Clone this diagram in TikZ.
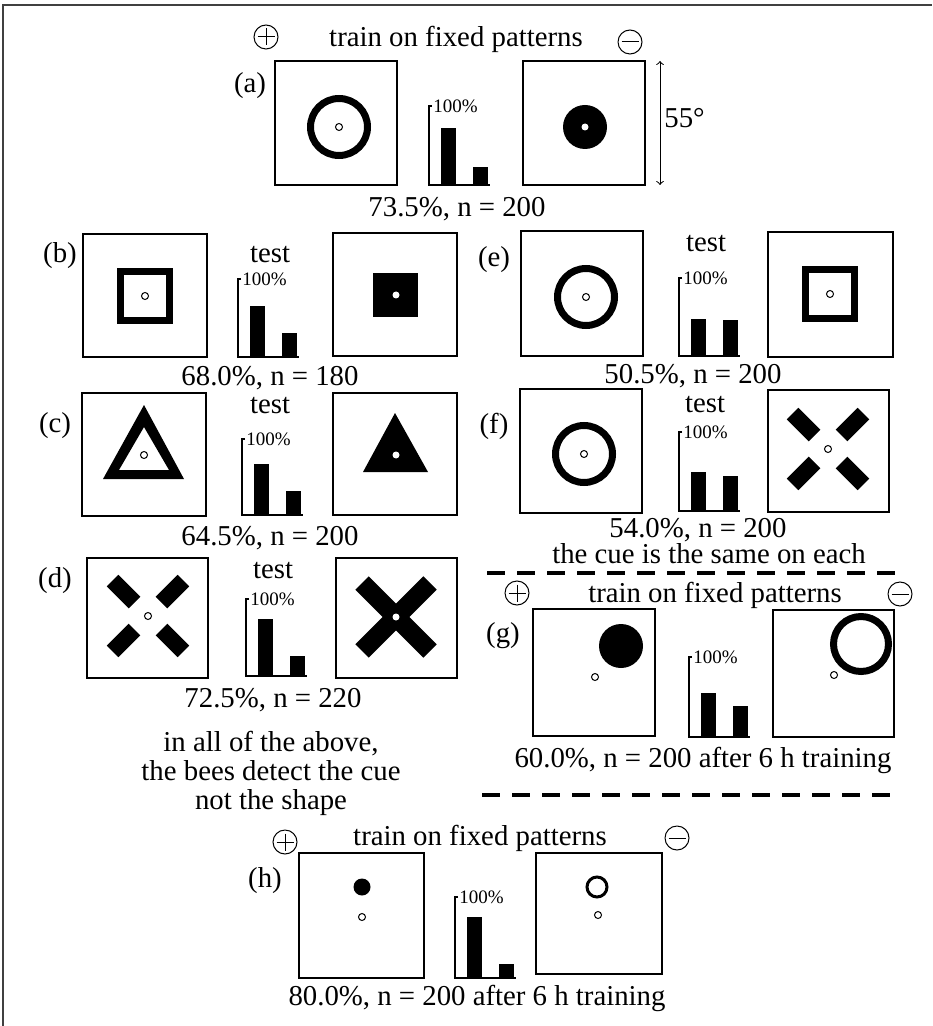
\documentclass[tikz,border=0pt]{standalone}
\usepackage{fontspec}
\setmainfont{Liberation Serif}
\tikzset{
    panel/.style={draw, line width=0.8pt},
    lbl/.style={font=\fontsize{14.4}{16}\selectfont, inner sep=0pt, anchor=base},
    pct/.style={font=\fontsize{9.5}{11}\selectfont, inner sep=0pt, anchor=west},
    cue/.style={draw, fill=white, line width=0.5pt},
    sign/.style={draw, circle, minimum size=12pt, inner sep=0pt, line width=0.5pt},
    dashline/.style={line width=2pt, dash pattern=on 9pt off 6pt}
}
\begin{document}
\begin{tikzpicture}[x=0.5pt, y=-0.5pt]
        \useasboundingbox (0,0) rectangle (932,1026);
        \draw[line width=1pt, black!75] (3,1026) -- (3,5) -- (932,5);
        % (a) training
        \node[sign] (pa) at (266,37) {};
        \draw[line width=0.5pt] ([xshift=2pt]pa.west) -- ([xshift=-2pt]pa.east);
        \draw[line width=0.5pt] ([yshift=-2pt]pa.north) -- ([yshift=2pt]pa.south);
        \node[sign] (ma) at (630,42) {};
        \draw[line width=0.5pt] ([xshift=2pt]ma.west) -- ([xshift=-2pt]ma.east);
        \node[lbl] (tita) at (456,47) {train on fixed patterns};
        \node[lbl] (laba) at (250,93) {(a)};
        \draw[panel] (275,61) rectangle (397,185);
        \draw[line width=3.5pt] (339,127) circle (14.25pt);
        \draw[cue] (339,127) circle (1.75pt);
        \draw[panel] (523,61) rectangle (645,185);
        \fill (585,127) circle (11pt);
        \fill[white] (585,127) circle (1.75pt);
        \coordinate (arrtop) at (660,61);
        \coordinate (arrbot) at (660,185);
        \draw[<->, line width=0.5pt] (arrtop) -- (arrbot);
        \node[lbl, anchor=base west] (deg) at (664,128) {55°};
        \node[lbl] (resa) at (457,217) {73.5\%, n = 200};
        % (b)
        \node[lbl] (labb) at (60,263) {(b)};
        \node[lbl] (testb) at (270,263) {test};
        \draw[panel] (83,234) rectangle (207,357);
        \draw[line width=3.5pt] (120.5,271.5) rectangle (169.5,320.5);
        \draw[cue] (145,296) circle (1.75pt);
        \draw[panel] (333,233) rectangle (457,356);
        \fill (373,273) rectangle (418,317);
        \fill[white] (396,295) circle (1.75pt);
        \node[lbl] (resb) at (270,385) {68.0\%, n = 180};
        % (c)
        \node[lbl] (labc) at (55,432) {(c)};
        \node[lbl] (testc) at (270,413) {test};
        \draw[panel] (82,393) rectangle (206,516);
        \fill[even odd rule] (144,405) -- (103,479) -- (184,479) -- cycle
            (144,427) -- (119,470) -- (169,470) -- cycle;
        \draw[cue] (144,455) circle (1.75pt);
        \draw[panel] (333,393) rectangle (457,515);
        \fill (395,413) -- (363,472) -- (428,472) -- cycle;
        \fill[white] (396,455) circle (1.75pt);
        \node[lbl] (resc) at (270,545) {64.5\%, n = 200};
        % (d)
        \node[lbl] (labd) at (55,587) {(d)};
        \node[lbl] (testd) at (273,578) {test};
        \draw[panel] (87,558) rectangle (208,678);
        \foreach \sx/\sy in {1/1,1/-1,-1/1,-1/-1}
            \draw[line width=8.25pt] ({148+13.5*\sx},{616+13.5*\sy}) -- ({148+35.4*\sx},{616+35.4*\sy});
        \draw[cue] (148,616) circle (1.75pt);
        \draw[panel] (336,558) rectangle (457,678);
        \draw[line width=9.5pt] (362,583) -- (430,651);
        \draw[line width=9.5pt] (362,651) -- (430,583);
        \fill[white] (396,617) circle (1.75pt);
        \node[lbl] (resd) at (273,707) {72.5\%, n = 220};
        \node[lbl, anchor=north, align=center, font=\fontsize{14.4}{14.5}\selectfont] (note) at (271,731)
            {in all of the above,\\the bees detect the cue\\not the shape};
        % (e)
        \node[lbl] (labe) at (494,267) {(e)};
        \node[lbl] (teste) at (706,252) {test};
        \draw[panel] (521,231) rectangle (643,356);
        \draw[line width=3.5pt] (586,297) circle (14.25pt);
        \draw[cue] (586,297) circle (1.75pt);
        \draw[panel] (768,232) rectangle (893,357);
        \draw[line width=3.5pt] (805.5,269.5) rectangle (854.5,318.5);
        \draw[cue] (830,294) circle (1.75pt);
        \node[lbl] (rese) at (693,383) {50.5\%, n = 200};
        % (f)
        \node[lbl] (labf) at (494,433) {(f)};
        \node[lbl] (testf) at (705,412) {test};
        \draw[panel] (520,389) rectangle (642,513);
        \draw[line width=3.5pt] (584,454) circle (14.25pt);
        \draw[cue] (584,454) circle (1.75pt);
        \draw[panel] (768,390) rectangle (889,512);
        \foreach \sx/\sy in {1/1,1/-1,-1/1,-1/-1}
            \draw[line width=8.25pt] ({828+13.5*\sx},{449+13.5*\sy}) -- ({828+35.4*\sx},{449+35.4*\sy});
        \draw[cue] (828,449) circle (1.75pt);
        \node[lbl] (resf) at (698,537) {54.0\%, n = 200};
        \node[lbl] (same) at (709,563) {the cue is the same on each};
        \draw[dashline] (487,573) -- (903,573);
        % (g)
        \node[sign] (pg) at (517,593) {};
        \draw[line width=0.5pt] ([xshift=2pt]pg.west) -- ([xshift=-2pt]pg.east);
        \draw[line width=0.5pt] ([yshift=-2pt]pg.north) -- ([yshift=2pt]pg.south);
        \node[sign] (mg) at (900,594) {};
        \draw[line width=0.5pt] ([xshift=2pt]mg.west) -- ([xshift=-2pt]mg.east);
        \node[lbl] (titg) at (715,602) {train on fixed patterns};
        \node[lbl] (labg) at (503,642) {(g)};
        \draw[panel] (533,609) rectangle (655,736);
        \fill (621,646) circle (11pt);
        \draw[cue] (595,677) circle (1.75pt);
        \draw[panel] (773,610) rectangle (894,737);
        \draw[line width=3.5pt] (861,644) circle (13.75pt);
        \draw[cue] (834,675) circle (1.75pt);
        \node[lbl] (resg) at (703,767) {60.0\%, n = 200 after 6 h training};
        \draw[dashline] (482,795) -- (898,795);
        % (h)
        \node[sign] (ph) at (285,842) {};
        \draw[line width=0.5pt] ([xshift=2pt]ph.west) -- ([xshift=-2pt]ph.east);
        \draw[line width=0.5pt] ([yshift=-2pt]ph.north) -- ([yshift=2pt]ph.south);
        \node[sign] (mh) at (677,838) {};
        \draw[line width=0.5pt] ([xshift=2pt]mh.west) -- ([xshift=-2pt]mh.east);
        \node[lbl] (tith) at (480,845) {train on fixed patterns};
        \node[lbl] (labh) at (265,887) {(h)};
        \draw[panel] (299,853) rectangle (424,978);
        \fill (362,887) circle (4.25pt);
        \draw[cue] (362,917) circle (1.75pt);
        \draw[panel] (536,853) rectangle (662,974);
        \draw[line width=1.5pt] (597,887) circle (5pt);
        \draw[cue] (598,915) circle (1.75pt);
        \node[lbl] (resh) at (477,1005) {80.0\%, n = 200 after 6 h training};
        % bar charts
        \foreach \n/\ax/\yt/\yb/\hp/\hm in {a/429/106/185/128/167, b/238/279/357/306/333,
                c/242/439/515/464/491, d/246/599/676/619/656, e/679/278/356/319/320,
                f/679/432/511/472/476, g/689/657/737/693/706, h/455/897/978/917/964}{
            \draw[line width=0.6pt] (\ax+3,\yt) -- (\ax,\yt) -- (\ax,\yb) -- (\ax+61,\yb);
            \fill (\ax+12,\hp) rectangle (\ax+27,\yb);
            \fill (\ax+44,\hm) rectangle (\ax+59,\yb);
            \node[pct] (pct\n) at (\ax+4,\yt) {100\%};
        }
\end{tikzpicture}
\end{document}
